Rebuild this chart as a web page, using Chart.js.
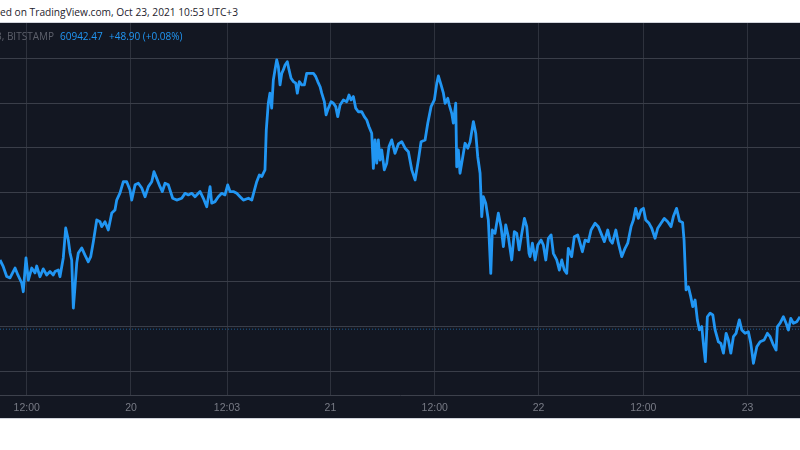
<!DOCTYPE html>
<html>
<head>
<meta charset="utf-8">
<script src="https://cdn.jsdelivr.net/npm/chart.js@4.4.0/dist/chart.umd.min.js"></script>
<style>
  body { margin: 0; background: #ffffff; width: 800px; height: 450px; overflow: hidden; position: relative; }
  #hdr { position: absolute; left: 0; top: 5px; font: 10.2px "Open Sans", sans-serif; color: #1e222d; white-space: nowrap; }
  #wrap { position: absolute; left: 0; top: 22px; width: 800px; height: 395px; background: #131722;
          border-top: 1px solid #d1d4dc; border-bottom: 1px solid #d1d4dc; overflow: hidden; }
  #wrap canvas { display: block; }
  #legend span { position: absolute; top: 6px; font: 10px "Open Sans", sans-serif; white-space: nowrap; }
  .sym { right: 746px; color: #5d606b; }
  .px { left: 60px; color: #2196f3; }
  .chg { left: 109px; color: #2196f3; }
</style>
</head>
<body>
<div id="hdr">ed on TradingView.com, Oct 23, 2021 10:53 UTC+3</div>
<div id="wrap">
  <canvas id="myChart" width="800" height="395"></canvas>
  <div id="legend"><span class="sym">3, BITSTAMP</span><span class="px">60942.47</span><span class="chg">+48.90 (+0.08%)</span></div>
</div>
<script>
// BTC/USD, Bitstamp, Oct 19 - Oct 23 2021 (hours counted from Oct 19 00:00, UTC+3)
const hours = [
  8.93, 9.31, 9.70, 10.08, 10.66, 11.00, 11.43, 11.61, 11.92, 12.19,
  12.58, 12.96, 13.15, 13.53, 13.91, 14.30, 14.68, 15.06, 15.26, 15.64,
  15.83, 16.21, 16.49, 16.79, 16.99, 17.18, 17.37, 17.56, 17.76, 17.94,
  18.33, 18.71, 19.09, 19.37, 19.67, 20.06, 20.44, 20.63, 21.01, 21.39,
  21.79, 22.16, 22.36, 22.74, 23.12, 23.51, 23.89, 24.09, 24.47, 24.85,
  25.24, 25.62, 26.00, 26.39, 26.65, 26.96, 27.34, 27.61, 27.92, 28.30,
  28.49, 28.80, 29.26, 29.84, 30.22, 30.60, 30.99, 31.37, 31.95, 32.33,
  32.72, 33.10, 33.29, 33.67, 34.05, 34.44, 34.82, 35.13, 35.40, 35.78,
  36.17, 36.55, 36.93, 37.51, 37.90, 38.16, 38.47, 38.77, 39.05, 39.23,
  39.42, 39.57, 39.80, 39.99, 40.19, 40.38, 40.57, 40.77, 40.96, 41.15,
  41.35, 41.53, 41.73, 41.99, 42.19, 42.42, 42.68, 42.96, 43.14, 43.37,
  43.65, 43.95, 44.22, 44.60, 44.99, 45.26, 45.49, 45.76, 45.95, 46.25,
  46.45, 46.71, 47.02, 47.29, 47.56, 47.79, 48.06, 48.44, 48.83, 49.09,
  49.32, 49.59, 49.86, 50.16, 50.55, 50.85, 51.13, 51.39, 51.70, 51.89,
  52.08, 52.28, 52.46, 52.66, 52.85, 53.15, 53.43, 53.69, 54.00, 54.38,
  54.77, 55.16, 55.54, 55.92, 56.31, 56.69, 57.07, 57.38, 57.84, 58.15,
  58.53, 58.91, 59.19, 59.37, 59.68, 59.95, 60.14, 60.45, 60.63, 60.91,
  61.09, 61.37, 61.48, 61.67, 61.86, 62.18, 62.44, 62.75, 63.02, 63.40,
  63.67, 63.90, 64.17, 64.36, 64.55, 64.82, 65.12, 65.40, 65.58, 65.89,
  66.27, 66.58, 66.85, 67.12, 67.42, 67.81, 68.11, 68.39, 68.66, 68.97,
  69.27, 69.54, 69.80, 69.92, 70.19, 70.50, 70.81, 71.19, 71.45, 71.73,
  72.03, 72.34, 72.60, 72.99, 73.29, 73.57, 73.86, 74.14, 74.32, 74.71,
  75.01, 75.40, 75.67, 75.94, 76.25, 76.63, 76.94, 77.40, 77.78, 78.09,
  78.47, 78.86, 79.13, 79.39, 79.79, 80.08, 80.47, 80.85, 81.16, 81.54,
  81.81, 82.08, 82.38, 82.69, 82.96, 83.23, 83.61, 83.92, 84.30, 84.61,
  84.99, 85.37, 85.76, 86.14, 86.41, 86.78, 87.12, 87.47, 87.64, 87.87,
  88.14, 88.41, 88.64, 88.91, 89.17, 89.40, 89.68, 89.86, 90.09, 90.32,
  90.64, 90.95, 91.21, 91.59, 91.87, 92.17, 92.48, 92.74, 93.02, 93.32,
  93.62, 94.00, 94.28, 94.66, 95.04, 95.32, 95.62, 96.01, 96.39, 96.85,
  97.23, 97.54, 97.92, 98.23, 98.38, 98.69, 99.07, 99.38, 99.65, 99.92,
  100.22, 100.61, 100.98
];
const prices = [
  62490, 62340, 62120, 62090, 62310, 62150, 61975, 61780, 62535, 62040,
  62310, 62200, 62355, 62115, 62290, 62155, 62230, 62155, 62230, 62265,
  62115, 62535, 63205, 62935, 62645, 62490, 61415, 61890, 62425, 62645,
  62760, 62600, 62450, 62565, 62900, 63385, 63345, 63235, 63345, 63160,
  63540, 63610, 63830, 63990, 64240, 64240, 64055, 63830, 64170, 64205,
  64100, 63905, 64130, 64240, 64465, 64315, 64130, 64020, 64205, 64170,
  64055, 63870, 63830, 63870, 63980, 63945, 63980, 63905, 64020, 63870,
  63680, 64130, 63760, 63795, 63905, 63980, 63945, 64170, 64020, 64020,
  63980, 63905, 63830, 63870, 63830, 64020, 64240, 64390, 64355, 64430,
  64505, 65400, 65995, 66220, 65885, 66515, 66740, 66965, 66815, 66405,
  66665, 66740, 66850, 66925, 66740, 66555, 66480, 66445, 66220, 66480,
  66405, 66405, 66665, 66665, 66665, 66590, 66480, 66365, 66220, 66030,
  65735, 65885, 66030, 65995, 65920, 65695, 65955, 66070, 66030, 66180,
  66070, 66145, 65885, 65805, 65805, 65695, 65620, 65470, 65325, 64540,
  65175, 64655, 65175, 64725, 64950, 64505, 64655, 65025, 65175, 64875,
  65085, 65135, 64990, 64910, 64505, 64280, 64725, 65135, 65175, 65550,
  65920, 66070, 66445, 66605, 66405, 66220, 65995, 66105, 65955, 65770,
  65550, 65995, 64575, 64950, 64430, 64800, 65100, 64990, 65135, 65585,
  65325, 64800, 64430, 63460, 63905, 63760, 63385, 62190, 63160, 63085,
  63535, 63235, 62790, 63275, 63010, 62490, 63125, 63085, 62715, 63085,
  63420, 63235, 62640, 62565, 62865, 62490, 62825, 62935, 62825, 62490,
  62975, 63050, 62640, 62490, 62265, 62490, 62265, 62190, 62750, 62565,
  63010, 63050, 62865, 62675, 62935, 62900, 63160, 63310, 63235, 63085,
  62900, 63160, 62935, 62865, 63160, 62865, 62565, 62750, 62865, 63235,
  63385, 63645, 63420, 63610, 63645, 63385, 63310, 63200, 62975, 63200,
  63310, 63420, 63345, 63235, 63460, 63645, 63360, 63330, 62935, 61820,
  61890, 61670, 61445, 61595, 61150, 60925, 61000, 60625, 60215, 61220,
  61300, 61260, 60925, 60660, 60625, 60405, 60850, 60700, 60405, 60775,
  60850, 61150, 60925, 60850, 60885, 60625, 60180, 60550, 60660, 60700,
  60850, 60775, 60590, 60475, 61000, 61075, 61220, 61075, 60925, 61185,
  61075, 61110, 61220
];
const tickHours = [12, 24, 35.05, 46.95, 58.95, 70.9, 82.95, 94.95];
const tickLabels = ['12:00', '20', '12:03', '21', '12:00', '22', '12:00', '23'];
const gridPrices = [60000, 61000, 62000, 63000, 64000, 65000, 66000, 67000];
const lastPrice = 60942.47;

const xMin = 8.93, xMax = 100.98;
const yMin = 59470, yMax = 67790;

const ctx = document.getElementById('myChart');

new Chart(ctx, {
  type: 'line',
  data: {
    datasets: [
      {
        data: hours.map((h, i) => ({ x: h, y: prices[i] })),
        borderColor: '#2196f3',
        borderWidth: 2.8,
        pointRadius: 0,
        tension: 0,
        borderJoinStyle: 'round',
        order: 1,
      },
      {
        data: [{ x: xMin, y: lastPrice }, { x: xMax, y: lastPrice }],
        borderColor: 'rgba(33,150,243,0.55)',
        borderWidth: 1,
        borderDash: [1, 2],
        pointRadius: 0,
        order: 2,
      }
    ]
  },
  options: {
    responsive: false,
    animation: false,
    devicePixelRatio: 1,
    layout: { padding: 0 },
    plugins: { legend: { display: false }, tooltip: { enabled: false } },
    scales: {
      x: {
        type: 'linear',
        min: xMin,
        max: xMax,
        afterBuildTicks: (axis) => { axis.ticks = tickHours.map(v => ({ value: v })); },
        afterFit: (axis) => { axis.height = 23; },
        ticks: {
          autoSkip: false,
          maxRotation: 0,
          padding: 7,
          color: '#787b86',
          font: { family: 'Liberation Sans', size: 10.5 },
          callback: (value, index) => tickLabels[index],
        },
        grid: { color: '#2e323d', drawTicks: false },
        border: { color: '#3d414c' },
      },
      y: {
        min: yMin,
        max: yMax,
        afterBuildTicks: (axis) => { axis.ticks = gridPrices.map(v => ({ value: v })); },
        afterFit: (axis) => { axis.width = 0; },
        ticks: { display: false },
        grid: { color: '#3a3e49', drawTicks: false },
        border: { display: false },
      }
    }
  }
});
</script>
</body>
</html>
